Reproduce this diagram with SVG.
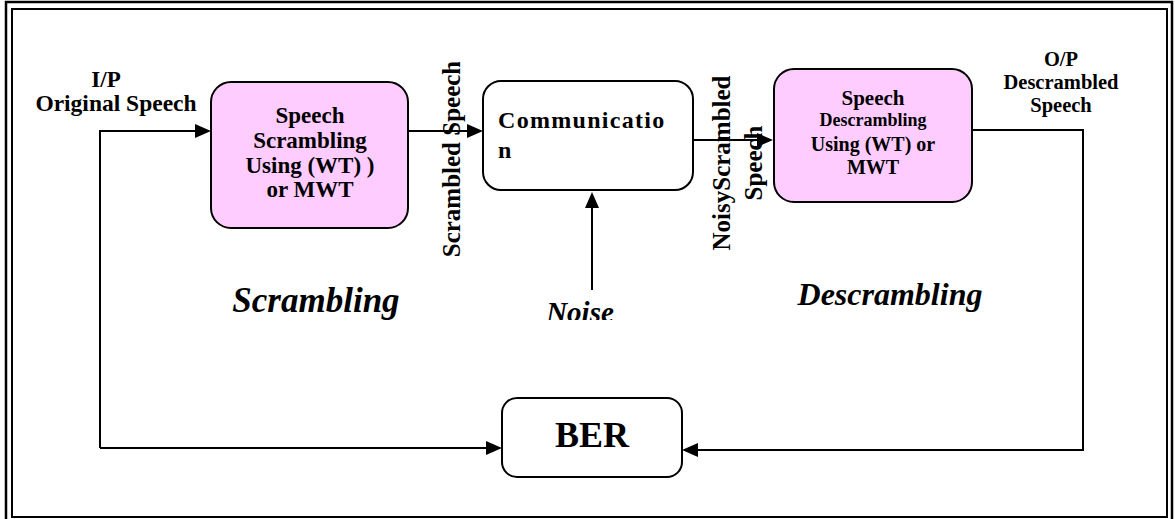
<svg xmlns="http://www.w3.org/2000/svg" width="1175" height="519" viewBox="0 0 1175 519">
<style>
.t{font-family:'Liberation Serif','DejaVu Serif','Noto Serif',serif;font-weight:bold;fill:#000}
.bi{font-family:'Liberation Serif','DejaVu Serif','Noto Serif',serif;font-weight:bold;font-style:italic;fill:#000}
.box{stroke:#000;stroke-width:2}
.pink{fill:#FFCCFF}
.white{fill:#fff}
.con{fill:none;stroke:#000;stroke-width:2}
</style>
<defs>
<marker id="ah" markerUnits="userSpaceOnUse" markerWidth="16" markerHeight="14" refX="2" refY="7" orient="auto">
<path d="M0,0 L16,7 L0,14 z" fill="#000"/>
</marker>
<clipPath id="clipTop"><rect x="0" y="62" width="1175" height="457"/></clipPath>
<clipPath id="clipNoise"><rect x="0" y="0" width="1175" height="320"/></clipPath>
</defs>
<rect width="1175" height="519" fill="#fff"/>
<g id="frame">
<rect x="6" y="2" width="1166" height="540" fill="none" stroke="#000" stroke-width="2.5"/>
<rect x="12" y="9" width="1155" height="508" fill="none" stroke="#000" stroke-width="2"/>
</g>
<g id="connectors">
<path class="con" d="M100,448 V131 H197" marker-end="url(#ah)"/>
<path class="con" d="M100,448 H488" marker-end="url(#ah)"/>
<path class="con" d="M408,131 H469" marker-end="url(#ah)"/>
<path class="con" d="M684,140 H759" marker-end="url(#ah)"/>
<path class="con" d="M592,290 V206" marker-end="url(#ah)"/>
<path class="con" d="M972,130 H1083 V450 H696" marker-end="url(#ah)"/>
</g>
<g id="label-input">
<text class="t" x="106" y="87" font-size="23" text-anchor="middle">I/P</text>
<text class="t" x="116" y="111" font-size="23.5" text-anchor="middle">Original Speech</text>
</g>
<g id="node-scrambling">
<rect class="box pink" x="211" y="82" width="197" height="146" rx="20"/>
<text class="t" font-size="23" text-anchor="middle"><tspan x="310" y="123">Speech</tspan><tspan x="310" y="148">Scrambling</tspan><tspan x="310" y="173">Using (WT) )</tspan><tspan x="310" y="197">or MWT</tspan></text>
</g>
<g id="label-scrambled" clip-path="url(#clipTop)">
<text class="t" font-size="25" text-anchor="middle" transform="translate(460,159) rotate(-90)">Scrambled Speech</text>
</g>
<g id="node-communication">
<rect class="box white" x="483" y="81" width="210" height="109" rx="18"/>
<text class="t" font-size="24" letter-spacing="1.3"><tspan x="498" y="128">Communicatio</tspan><tspan x="498" y="158">n</tspan></text>
</g>
<g id="label-noise" clip-path="url(#clipNoise)">
<text class="bi" x="580" y="322" font-size="29" text-anchor="middle">Noise</text>
</g>
<g id="label-noisy">
<text class="t" font-size="25" text-anchor="middle" transform="translate(730,163) rotate(-90)"><tspan x="0" y="0">NoisyScrambled</tspan><tspan x="0" y="32">Speech</tspan></text>
</g>
<g id="node-descrambling">
<rect class="box pink" x="774" y="69" width="198" height="133" rx="20"/>
<text class="t" text-anchor="middle"><tspan x="873" y="105" font-size="21">Speech</tspan><tspan x="873" y="126" font-size="18">Descrambling</tspan><tspan x="873" y="151" font-size="20">Using (WT) or</tspan><tspan x="873" y="174" font-size="20">MWT</tspan></text>
</g>
<g id="label-output">
<text class="t" font-size="20.5" text-anchor="middle"><tspan x="1061" y="66">O/P</tspan><tspan x="1061" y="89">Descrambled</tspan><tspan x="1061" y="112">Speech</tspan></text>
</g>
<g id="label-scrambling-section">
<text class="bi" x="316" y="312" font-size="35" text-anchor="middle">Scrambling</text>
</g>
<g id="label-descrambling-section">
<text class="bi" x="890" y="305" font-size="32" text-anchor="middle">Descrambling</text>
</g>
<g id="node-ber">
<rect class="box white" x="502" y="398" width="180" height="79" rx="15"/>
<text class="t" x="592" y="447" font-size="36" text-anchor="middle">BER</text>
</g>
</svg>
